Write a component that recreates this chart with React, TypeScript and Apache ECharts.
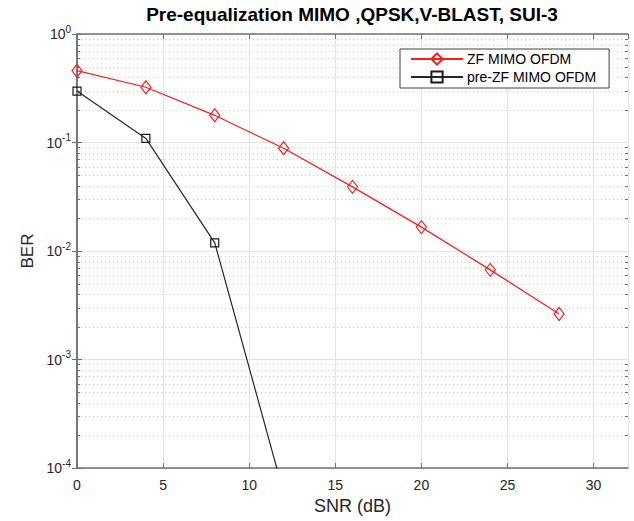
import React, { useEffect, useRef } from "react";
import * as echarts from "echarts";

const SNR_ZF = [0, 4, 8, 12, 16, 20, 24, 28];
const BER_ZF = [0.459, 0.323, 0.178, 0.0884, 0.039, 0.0166, 0.0067, 0.00263];
const SNR_PRE = [0, 4, 8, 12];
const BER_PRE = [0.298, 0.109, 0.0119, 0.000059];
const X_TICKS = [0, 5, 10, 15, 20, 25, 30];
const DECADES = [1e-4, 1e-3, 1e-2, 1e-1];
const MINOR_FACTORS = [2, 3, 4, 5, 6, 7, 8, 9];
const TITLE = "Pre-equalization MIMO ,QPSK,V-BLAST, SUI-3";
const NAMES = ["ZF MIMO OFDM", "pre-ZF MIMO OFDM"];

const FONT = "'Liberation Sans', Arial, Helvetica, sans-serif";
const AXIS_COLOR = "#707070";
const TEXT_COLOR = "#262626";

export default function App() {
  const ref = useRef<HTMLDivElement>(null);
  useEffect(() => {
    document.body.style.margin = "0";
    if (!ref.current) return;
    const chart = echarts.init(ref.current, undefined, { renderer: "svg" });
    const minorVals: number[][] = [];
    DECADES.forEach((d) => MINOR_FACTORS.forEach((k) => minorVals.push([0, k * d])));
    const zf = SNR_ZF.map((x, i) => [x, BER_ZF[i]]);
    const pre = SNR_PRE.map((x, i) => [x, BER_PRE[i]]);
    const yLabel = {
      formatter: (v: number) => `{b|10}{s|${Math.round(Math.log10(v))}}`,
      margin: 6,
      rich: {
        b: { fontSize: 14, fontFamily: FONT, color: TEXT_COLOR },
        s: { fontSize: 10, fontFamily: FONT, color: TEXT_COLOR, padding: [0, 0, 10, 0] },
      },
    };
    chart.setOption({
      animation: false,
      backgroundColor: "#ffffff",
      textStyle: { fontFamily: FONT },
      graphic: [
        {
          type: "text",
          x: 352,
          y: 14,
          style: {
            text: TITLE,
            fontSize: 19,
            fontWeight: "bold",
            fontFamily: FONT,
            fill: "#000",
            align: "center",
            verticalAlign: "middle",
          },
        },
      ],
      grid: { left: 77, right: 6, top: 34, bottom: 53 },
      legend: {
        data: NAMES,
        orient: "vertical",
        left: 400,
        top: 49,
        itemWidth: 52,
        itemHeight: 14,
        itemGap: 4,
        padding: [3, 13, 4, 10],
        backgroundColor: "#ffffff",
        borderColor: "#404040",
        borderWidth: 1,
        textStyle: { fontSize: 14, fontFamily: FONT, color: "#000", padding: [0, 0, 0, -1] },
        selectedMode: false,
      },
      xAxis: [
        {
          type: "value",
          min: 0,
          max: 32,
          interval: 5,
          name: "SNR (dB)",
          nameLocation: "middle",
          nameGap: 27,
          nameTextStyle: { fontSize: 18, fontFamily: FONT, color: TEXT_COLOR },
          axisLine: { show: true, lineStyle: { color: AXIS_COLOR, width: 1.5 } },
          axisTick: { show: true, inside: true, length: 5, lineStyle: { color: AXIS_COLOR } },
          axisLabel: { fontSize: 14, fontFamily: FONT, color: TEXT_COLOR, margin: 10, showMaxLabel: false,
            formatter: (v: number) => (X_TICKS.includes(v) ? String(v) : "") },
          splitLine: { show: true, lineStyle: { color: "#e2e2e2", width: 1 } },
        },
        {
          type: "value",
          min: 0,
          max: 32,
          interval: 5,
          position: "top",
          axisLine: { show: true, lineStyle: { color: AXIS_COLOR, width: 1.5 } },
          axisTick: { show: true, inside: true, length: 5, lineStyle: { color: AXIS_COLOR } },
          axisLabel: { show: false },
          splitLine: { show: false },
        },
      ],
      yAxis: [
        {
          type: "log",
          logBase: 10,
          min: 1e-4,
          max: 1,
          name: "BER",
          nameLocation: "middle",
          nameGap: 41,
          nameTextStyle: { fontSize: 17, fontFamily: FONT, color: TEXT_COLOR },
          axisLine: { show: true, lineStyle: { color: AXIS_COLOR, width: 1.5 } },
          axisTick: { show: true, inside: true, length: 5, lineStyle: { color: AXIS_COLOR } },
          axisLabel: yLabel,
          splitLine: { show: true, lineStyle: { color: "#e2e2e2", width: 1 } },
          minorTick: { show: false },
        },
        {
          type: "log",
          logBase: 10,
          min: 1e-4,
          max: 1,
          position: "right",
          axisLine: { show: true, lineStyle: { color: AXIS_COLOR, width: 1.5 } },
          axisTick: { show: true, inside: true, length: 5, lineStyle: { color: AXIS_COLOR } },
          axisLabel: { show: false },
          splitLine: { show: false },
        },
      ],
      series: [
        {
          type: "custom",
          name: "minor",
          xAxisIndex: 0,
          yAxisIndex: 0,
          silent: true,
          z: 1,
          data: minorVals,
          renderItem: (params: any, api: any) => {
            const pt = api.coord([api.value(0), api.value(1)]);
            const cs = params.coordSys;
            const y = Math.round(pt[1]) + 0.5;
            return {
              type: "group",
              children: [
                {
                  type: "line",
                  shape: { x1: cs.x, y1: y, x2: cs.x + cs.width, y2: y },
                  style: { stroke: "#cfcfcf", lineWidth: 1, lineDash: [1, 3] },
                },
                {
                  type: "line",
                  shape: { x1: cs.x, y1: y, x2: cs.x + 3, y2: y },
                  style: { stroke: AXIS_COLOR, lineWidth: 1 },
                },
                {
                  type: "line",
                  shape: { x1: cs.x + cs.width - 3, y1: y, x2: cs.x + cs.width, y2: y },
                  style: { stroke: AXIS_COLOR, lineWidth: 1 },
                },
              ],
            };
          },
        },
        {
          type: "line",
          name: NAMES[0],
          data: zf,
          z: 3,
          symbol: "diamond",
          symbolSize: [10, 13],
          showAllSymbol: true,
          silent: true,
          lineStyle: { color: "#ff1a1a", width: 1.2 },
          itemStyle: { color: "rgba(255,255,255,0)", borderColor: "#ff1a1a", borderWidth: 1.2 },
          emphasis: { disabled: true },
        },
        {
          type: "line",
          name: NAMES[1],
          data: pre,
          z: 3,
          symbol: "rect",
          symbolSize: 8,
          showAllSymbol: true,
          silent: true,
          clip: true,
          lineStyle: { color: "#262626", width: 1.2 },
          itemStyle: { color: "rgba(255,255,255,0)", borderColor: "#1a1a1a", borderWidth: 1.2 },
          emphasis: { disabled: true },
        },
      ],
    });
    return () => chart.dispose();
  }, []);
  return <div ref={ref} style={{ width: 634, height: 521 }} />;
}
